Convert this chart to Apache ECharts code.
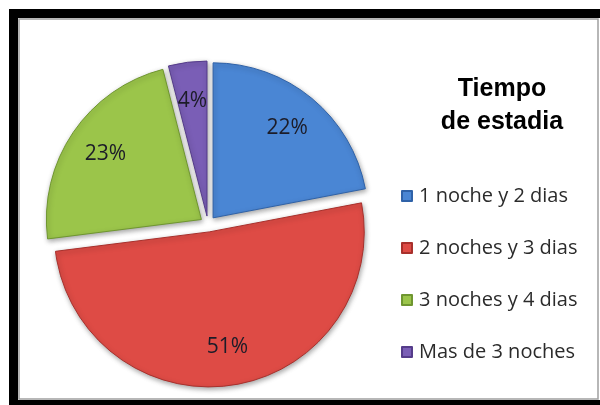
<!DOCTYPE html>
<html>
<head>
<meta charset="utf-8">
<script src="https://cdn.jsdelivr.net/npm/echarts@6/dist/echarts.min.js"></script>
<style>
html,body{margin:0;padding:0;background:#fff;}
#chart{width:600px;height:405px;}
</style>
</head>
<body>
<div id="chart"></div>
<script>
const categories = ['1 noche y 2 dias', '2 noches y 3 dias', '3 noches y 4 dias', 'Mas de 3 noches'];
const values = [22, 51, 23, 4];
const colors = ['#4a86d4', '#de4b45', '#9bc54a', '#7a5eb6'];
const edgeColors = ['#2f62a8', '#a8302c', '#6f9630', '#553c8a'];
const titleLines = ['Tiempo', 'de estadia'];

const chart = echarts.init(document.getElementById('chart'), null, {renderer: 'canvas'});

const mainData = categories.map((name, i) => ({
  name: name,
  value: values[i],
  selected: true,
  itemStyle: {color: colors[i], borderColor: edgeColors[i], borderWidth: 1}
}));
const labelData = categories.map((name, i) => ({
  name: name,
  value: values[i],
  selected: true
}));

const center = [208, 224];
const radius = 155;
const offset = 8;

chart.setOption({
  backgroundColor: '#ffffff',
  animation: false,
  title: {
    text: titleLines.join('\n'),
    left: 497,
    top: 68,
    textAlign: 'center',
    textStyle: {
      fontFamily: 'Liberation Sans, Arial, sans-serif',
      fontWeight: 'bold',
      fontSize: 25,
      lineHeight: 33,
      color: '#000'
    }
  },
  legend: {
    orient: 'vertical',
    left: 396,
    top: 181,
    itemWidth: 10,
    itemHeight: 10,
    itemGap: 32,
    icon: 'rect',
    data: categories,
    selectedMode: false,
    textStyle: {
      fontFamily: 'Open Sans, sans-serif',
      fontSize: 20,
      lineHeight: 20,
      color: '#2b2b2b',
      padding: [0, 0, 0, 2]
    }
  },
  graphic: [
    {type: 'rect', silent: true, z: 100,
     shape: {x: 13.5, y: 13.5, width: 600, height: 391},
     style: {fill: 'none', stroke: '#000', lineWidth: 9}},
    {type: 'rect', silent: true, z: 100,
     shape: {x: 19, y: 19, width: 579, height: 380},
     style: {fill: 'none', stroke: '#a0a0a0', lineWidth: 1.5}}
  ],
  series: [
    {
      type: 'pie',
      center: center,
      radius: [0, radius],
      startAngle: 90,
      clockwise: true,
      selectedMode: 'multiple',
      selectedOffset: offset,
      silent: true,
      label: {show: false},
      labelLine: {show: false},
      itemStyle: {
        shadowBlur: 5,
        shadowColor: 'rgba(0,0,0,0.35)',
        shadowOffsetX: 1,
        shadowOffsetY: 2
      },
      data: mainData
    },
    {
      type: 'pie',
      center: center,
      radius: [radius * 0.46, radius],
      startAngle: 90,
      clockwise: true,
      selectedMode: 'multiple',
      selectedOffset: offset,
      silent: true,
      legendHoverLink: false,
      itemStyle: {color: 'rgba(0,0,0,0)', borderWidth: 0},
      labelLine: {show: false},
      label: {
        show: true,
        position: 'inside',
        formatter: '{c}%',
        fontFamily: 'Open Sans, sans-serif',
        fontSize: 21,
        color: '#1c1c28'
      },
      data: labelData
    }
  ]
});
</script>
</body>
</html>
